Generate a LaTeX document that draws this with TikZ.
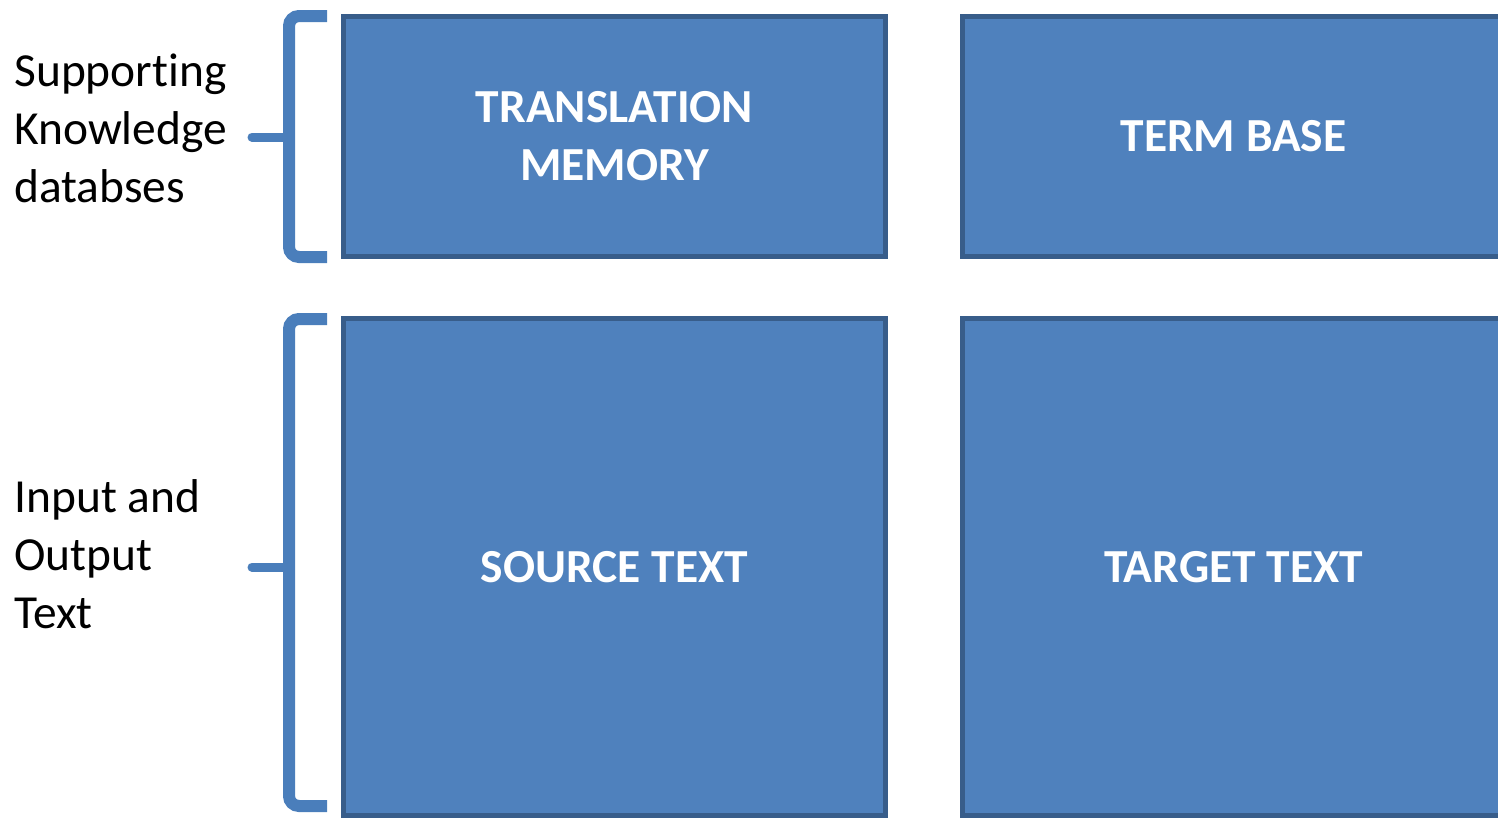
\documentclass[tikz,border=0pt]{standalone}
\usepackage{fontspec}
\setmainfont{Carlito}[RawFeature={-liga}]
\usetikzlibrary{positioning}
\definecolor{boxblue}{HTML}{4F81BD}
\definecolor{boxedge}{HTML}{385D8A}
\definecolor{braceblue}{HTML}{4A7EBB}
\tikzset{dbbox/.style={draw=boxedge,fill=boxblue,line width=0.1cm,
  minimum width=10.86cm,text=white,align=center,inner sep=0pt,
  font=\fontsize{27}{33}\selectfont\bfseries},
 bracket/.style={draw=braceblue,line width=0.24cm,rounded corners=0.2cm},
 bracetip/.style={draw=braceblue,line width=0.18cm,line cap=round},
 sidelabel/.style={anchor=west,align=left,inner sep=0pt,
  font=\fontsize{27}{33}\selectfont},
 }

\begin{document}
\begin{tikzpicture}[x=0.02cm,y=-0.02cm]
    \clip (0,0) rectangle (1498,819);
    % the four boxes
    \node[dbbox,minimum height=4.82cm] (tm) at (614.5,136.5) {TRANSLATION\\MEMORY};
    \node[dbbox,minimum height=4.82cm] (tb) at (1233.5,136.5) {TERM BASE};
    \node[dbbox,minimum height=9.96cm] (st) at (614.5,567) {SOURCE TEXT};
    \node[dbbox,minimum height=9.96cm] (tt) at (1233.5,567) {TARGET TEXT};
    % brackets
    \coordinate (kbtop) at (327,16);
    \coordinate (kbbot) at (327,257);
    \coordinate (kbmid) at (289,137);
    \coordinate (kbtip) at (252,137);
    \coordinate (iotop) at (327,319);
    \coordinate (iobot) at (327,806);
    \coordinate (iomid) at (289,567);
    \coordinate (iotip) at (252,567);
    \draw[bracket] (kbtop) -- (289,16) -- (kbmid) -- (289,257) -- (kbbot);
    \draw[bracetip] (kbmid) -- (kbtip);
    \draw[bracket] (iotop) -- (289,319) -- (iomid) -- (289,806) -- (iobot);
    \draw[bracetip] (iomid) -- (iotip);
    % side labels
    \node[sidelabel] (kblabel) at (14,128) {Supporting\\Knowledge\\databses};
    \node[sidelabel] (iolabel) at (14,554) {Input and\\Output\\Text};
\end{tikzpicture}
\end{document}
